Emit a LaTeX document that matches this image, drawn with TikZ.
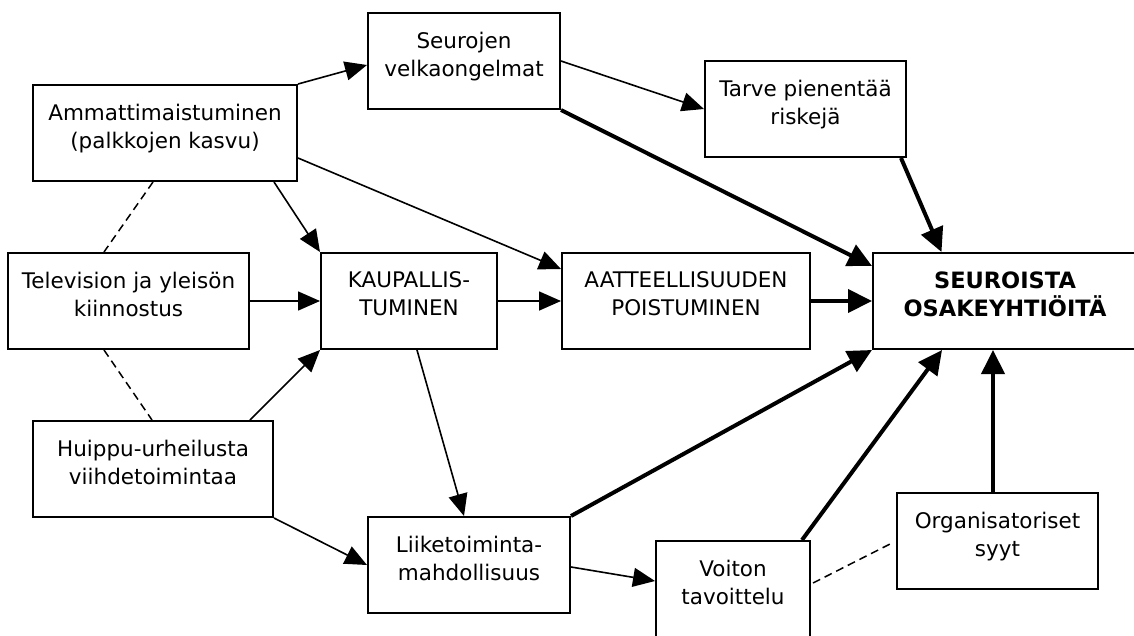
\documentclass[tikz,border=0pt]{standalone}
\usepackage{fontspec}
\setmainfont{DejaVu Sans}
\usetikzlibrary{arrows.meta}
\tikzset{
  box/.style={draw, line width=2pt, rectangle, inner sep=0pt, align=center,
    font=\fontsize{21.5}{28}\selectfont, text depth=14pt},
  thinarrow/.style={line width=1.6pt, -{Triangle[length=22pt,width=19pt]}},
  thickarrow/.style={line width=4pt, -{Triangle[length=24pt,width=23pt]}},
  dashline/.style={line width=1.5pt, dash pattern=on 8pt off 5pt}
}
\begin{document}
\begin{tikzpicture}[x=1pt,y=-1pt]
\useasboundingbox (0,0) rectangle (1134,635);
\fill[white] (0,0) rectangle (1134,635);
% boxes
\node[box, minimum width=192pt, minimum height=96pt] (seu) at (464,61) {Seurojen\\velkaongelmat};
\node[box, minimum width=264pt, minimum height=96pt] (amm) at (165,133) {Ammattimaistuminen\\(palkkojen kasvu)};
\node[box, minimum width=201pt, minimum height=96pt] (tar) at (805.5,109) {Tarve pienentää\\riskejä};
\node[box, minimum width=241pt, minimum height=96pt] (tv) at (128.5,301) {Television ja yleisön\\kiinnostus};
\node[box, minimum width=176pt, minimum height=96pt] (kau) at (409,301) {KAUPALLIS-\\TUMINEN};
\node[box, minimum width=248pt, minimum height=96pt] (aat) at (686,301) {AATTEELLISUUDEN\\POISTUMINEN};
\node[box, minimum width=264pt, minimum height=96pt, font=\fontsize{22.5}{28}\bfseries] (seo) at (1005,301) {SEUROISTA\\OSAKEYHTIÖITÄ};
\node[box, minimum width=240pt, minimum height=96pt] (hui) at (153,469) {Huippu-urheilusta\\viihdetoimintaa};
\node[box, minimum width=202pt, minimum height=96pt] (lii) at (469,565) {Liiketoiminta-\\mahdollisuus};
\node[box, minimum width=154pt, minimum height=96pt] (voi) at (733,589) {Voiton\\tavoittelu};
\node[box, minimum width=201pt, minimum height=96pt] (org) at (997.5,541) {Organisatoriset\\syyt};
% thin arrows
\draw[thinarrow] (amm.north east) -- ([yshift=-4pt]seu.west);
\draw[thinarrow] ([xshift=-24pt]amm.south east) -- (kau.north west);
\draw[thinarrow] ([yshift=-25pt]amm.east) -- ([yshift=-17pt]aat.north west);
\draw[thinarrow] (tv.east) -- (kau.west);
\draw[thinarrow] (kau.east) -- (aat.west);
\draw[thinarrow] (seu.east) -- (tar.west);
\draw[thinarrow] ([xshift=-24pt]hui.north east) -- (kau.south west);
\draw[thinarrow] ([xshift=8pt]kau.south) -- ([xshift=-5pt]lii.north);
\draw[thinarrow] (hui.south east) -- (lii.west);
\draw[thinarrow] ([yshift=-2pt]lii.east) -- ([yshift=8pt]voi.west);
% thick arrows
\draw[thickarrow] (aat.east) -- (seo.west);
\draw[thickarrow] (seu.south east) -- ([yshift=-14pt]seo.north west);
\draw[thickarrow] ([xshift=-6pt]tar.south east) -- ([xshift=69.5pt]seo.north west);
\draw[thickarrow] (lii.north east) -- (seo.south west);
\draw[thickarrow] ([xshift=-9pt]voi.north east) -- ([xshift=70pt]seo.south west);
\draw[thickarrow] ([xshift=-4.5pt]org.north) -- ([xshift=-4.5pt]org.north |- seo.south);
% dashed
\draw[dashline] ([xshift=121pt]amm.south west) -- ([xshift=97pt]tv.north west);
\draw[dashline] ([xshift=97pt]tv.south west) -- ([xshift=120pt]hui.north west);
\draw[dashline] ([xshift=2pt,yshift=6pt]voi.east) -- ([xshift=-4pt,yshift=-2pt]org.west);
\end{tikzpicture}
\end{document}
